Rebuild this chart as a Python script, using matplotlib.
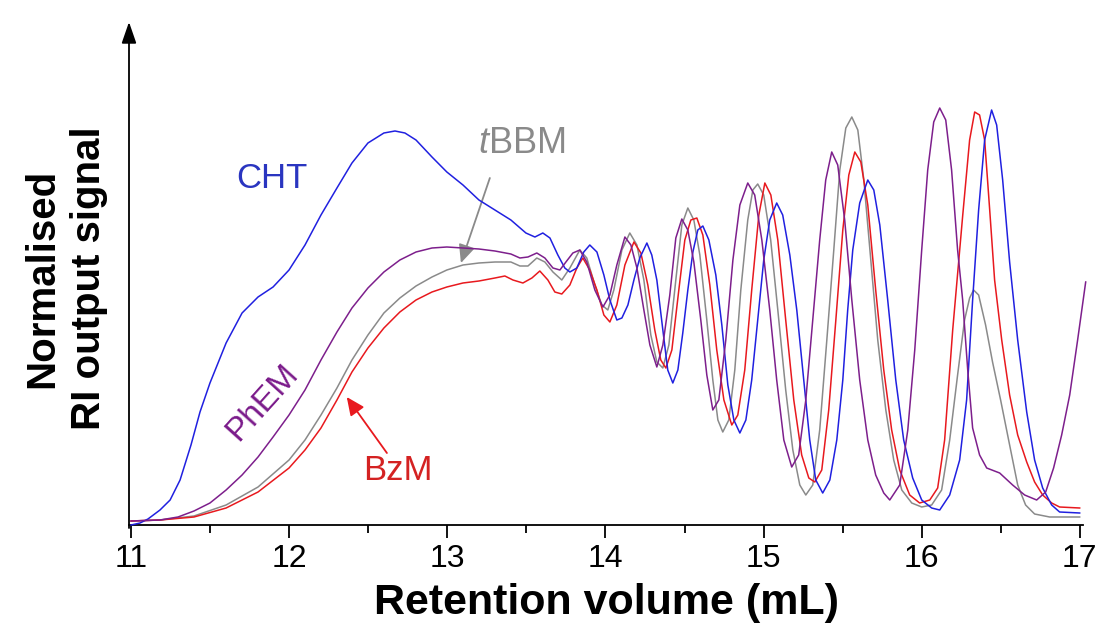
import matplotlib
matplotlib.use("Agg")
import matplotlib.pyplot as plt
from matplotlib.ticker import MultipleLocator

plt.rcParams['font.family'] = ['Liberation Sans', 'DejaVu Sans']
plt.rcParams['mathtext.fontset'] = 'custom'
plt.rcParams['mathtext.rm'] = 'Liberation Sans'
plt.rcParams['mathtext.it'] = 'Liberation Sans:italic'

# ---------------- data (retention volume in mL, normalised RI signal, a.u.) ----------------
cht_x = [11.000, 11.057, 11.107, 11.183, 11.247, 11.310, 11.379, 11.436, 11.499, 11.601,
         11.702, 11.803, 11.898, 11.999, 12.100, 12.201, 12.302, 12.397, 12.498, 12.599,
         12.669, 12.732, 12.802, 12.903, 12.997, 13.099, 13.200, 13.301, 13.402, 13.497,
         13.554, 13.604, 13.649, 13.699, 13.743, 13.775, 13.819, 13.863, 13.901, 13.946,
         13.990, 14.028, 14.072, 14.104, 14.142, 14.180, 14.217, 14.262, 14.293, 14.325,
         14.363, 14.394, 14.426, 14.458, 14.489, 14.521, 14.553, 14.584, 14.616, 14.654,
         14.698, 14.736, 14.774, 14.812, 14.850, 14.888, 14.925, 14.963, 15.001, 15.039,
         15.083, 15.121, 15.166, 15.210, 15.254, 15.292, 15.330, 15.374, 15.419, 15.463,
         15.501, 15.532, 15.564, 15.608, 15.659, 15.697, 15.735, 15.785, 15.836, 15.886,
         15.943, 16.000, 16.063, 16.114, 16.177, 16.240, 16.284, 16.322, 16.360, 16.398,
         16.442, 16.474, 16.512, 16.556, 16.607, 16.664, 16.714, 16.765, 16.822, 16.872,
         16.999]
cht_y = [-3, -1, 3, 12, 22, 42, 77, 110, 139, 179,
         209, 225, 235, 252, 277, 307, 334, 359, 379, 389,
         391, 389, 382, 365, 350, 337, 322, 312, 302, 289,
         285, 289, 284, 267, 254, 250, 254, 270, 277, 270,
         247, 222, 202, 204, 217, 242, 264, 279, 267, 242,
         192, 152, 139, 152, 189, 232, 270, 292, 296, 282,
         247, 197, 137, 102, 89, 102, 142, 202, 262, 302,
         319, 307, 267, 212, 142, 82, 42, 29, 42, 82,
         142, 212, 272, 319, 342, 332, 297, 222, 142, 82,
         44, 22, 14, 12, 27, 62, 122, 222, 312, 382,
         412, 397, 342, 260, 182, 110, 62, 34, 17, 10,
         9]

phem_x = [11.000, 11.183, 11.297, 11.398, 11.499, 11.601, 11.702, 11.803, 11.898, 11.999,
          12.100, 12.201, 12.302, 12.397, 12.498, 12.599, 12.700, 12.802, 12.903, 12.997,
          13.099, 13.200, 13.301, 13.402, 13.459, 13.510, 13.566, 13.617, 13.668, 13.712,
          13.750, 13.794, 13.838, 13.882, 13.933, 13.984, 14.028, 14.072, 14.123, 14.161,
          14.199, 14.243, 14.281, 14.325, 14.363, 14.407, 14.445, 14.483, 14.521, 14.559,
          14.603, 14.641, 14.679, 14.717, 14.761, 14.806, 14.850, 14.900, 14.944, 14.989,
          15.039, 15.083, 15.128, 15.178, 15.222, 15.267, 15.311, 15.355, 15.393, 15.431,
          15.469, 15.513, 15.558, 15.608, 15.659, 15.709, 15.760, 15.798, 15.861, 15.912,
          15.956, 16.000, 16.038, 16.076, 16.114, 16.152, 16.189, 16.227, 16.259, 16.291,
          16.322, 16.366, 16.411, 16.493, 16.575, 16.651, 16.727, 16.784, 16.834, 16.885,
          16.936, 16.986, 17.037]
phem_y = [1, 2, 5, 11, 19, 32, 47, 65, 85, 107,
          132, 162, 190, 214, 234, 250, 262, 270, 274, 275,
          274, 273, 271, 268, 264, 265, 269, 264, 254, 252,
          260, 269, 272, 260, 232, 215, 227, 257, 285, 277,
          254, 212, 177, 155, 177, 227, 284, 303, 292, 260,
          202, 147, 112, 122, 182, 262, 317, 339, 327, 282,
          212, 142, 82, 55, 67, 122, 202, 282, 342, 370,
          357, 302, 222, 142, 82, 47, 29, 22, 37, 92,
          172, 272, 352, 400, 414, 402, 352, 272, 222, 152,
          94, 67, 54, 49, 37, 27, 22, 30, 54, 87,
          127, 182, 240]

tbbm_x = [11.000, 11.183, 11.398, 11.601, 11.803, 11.999, 12.100, 12.201, 12.302, 12.397,
          12.498, 12.599, 12.700, 12.802, 12.903, 12.997, 13.099, 13.200, 13.301, 13.402,
          13.459, 13.510, 13.566, 13.617, 13.668, 13.724, 13.775, 13.838, 13.882, 13.933,
          13.977, 14.015, 14.053, 14.104, 14.154, 14.199, 14.243, 14.287, 14.325, 14.363,
          14.401, 14.445, 14.483, 14.521, 14.559, 14.597, 14.641, 14.679, 14.711, 14.742,
          14.780, 14.818, 14.856, 14.900, 14.932, 14.963, 15.001, 15.045, 15.090, 15.140,
          15.185, 15.229, 15.267, 15.311, 15.355, 15.400, 15.444, 15.482, 15.520, 15.558,
          15.596, 15.634, 15.678, 15.722, 15.773, 15.823, 15.874, 15.937, 16.000, 16.063,
          16.126, 16.177, 16.227, 16.271, 16.303, 16.328, 16.360, 16.404, 16.448, 16.499,
          16.556, 16.607, 16.657, 16.714, 16.809, 16.999]
tbbm_y = [1, 2, 6, 17, 35, 62, 82, 107, 134, 162,
          187, 209, 224, 236, 245, 252, 257, 259, 260, 260,
          256, 256, 264, 260, 250, 242, 254, 272, 264, 237,
          217, 212, 232, 272, 289, 277, 242, 187, 160, 154,
          177, 242, 297, 314, 302, 267, 202, 142, 102, 90,
          102, 152, 232, 302, 332, 338, 327, 282, 212, 132,
          72, 37, 27, 37, 92, 182, 272, 352, 394, 405,
          392, 342, 262, 182, 112, 62, 32, 19, 15, 17,
          32, 82, 147, 202, 224, 232, 227, 197, 160, 122,
          77, 37, 17, 8, 5, 5]

bzm_x = [11.000, 11.183, 11.398, 11.601, 11.803, 11.999, 12.100, 12.201, 12.302, 12.397,
         12.498, 12.599, 12.700, 12.802, 12.903, 12.997, 13.099, 13.200, 13.301, 13.364,
         13.415, 13.478, 13.535, 13.585, 13.636, 13.680, 13.724, 13.775, 13.819, 13.857,
         13.901, 13.946, 13.990, 14.028, 14.072, 14.123, 14.180, 14.224, 14.268, 14.312,
         14.350, 14.382, 14.420, 14.464, 14.502, 14.540, 14.578, 14.616, 14.660, 14.704,
         14.749, 14.799, 14.837, 14.881, 14.925, 14.970, 15.008, 15.046, 15.090, 15.140,
         15.191, 15.241, 15.286, 15.324, 15.368, 15.412, 15.457, 15.501, 15.539, 15.577,
         15.615, 15.659, 15.709, 15.760, 15.810, 15.861, 15.924, 15.987, 16.051, 16.101,
         16.145, 16.196, 16.259, 16.303, 16.335, 16.366, 16.398, 16.430, 16.461, 16.506,
         16.556, 16.607, 16.664, 16.714, 16.765, 16.822, 16.872, 16.999]
bzm_y = [1, 2, 5, 14, 30, 54, 72, 94, 122, 150,
         174, 194, 210, 222, 230, 235, 239, 241, 244, 246,
         242, 239, 244, 251, 242, 230, 228, 237, 254, 264,
         252, 232, 207, 200, 217, 257, 280, 269, 237, 192,
         162, 154, 172, 232, 282, 302, 304, 287, 237, 172,
         122, 97, 107, 152, 232, 307, 339, 327, 282, 202,
         122, 67, 44, 40, 52, 112, 202, 292, 347, 370,
         360, 317, 232, 152, 92, 52, 27, 19, 22, 34,
         82, 192, 306, 382, 410, 407, 382, 312, 242, 182,
         127, 87, 60, 40, 27, 19, 15, 14]

x_ticks = [11, 12, 13, 14, 15, 16, 17]
x_tick_labels = ["11", "12", "13", "14", "15", "16", "17"]

# ---------------- figure ----------------
W, H = 1102, 643
fig = plt.figure(figsize=(W / 100, H / 100), dpi=100)
ax = fig.add_axes([129 / W, (H - 525) / H, (1083 - 129) / W, (525 - 22) / H])

col_cht = '#2020e0'
col_phem = '#7d1f8c'
col_tbbm = '#8a8a8a'
col_bzm = '#e8191e'

lw = 1.1
ax.plot(tbbm_x, tbbm_y, color=col_tbbm, lw=lw, clip_on=False, zorder=2)
ax.plot(bzm_x, bzm_y, color=col_bzm, lw=lw, clip_on=False, zorder=3)
ax.plot(cht_x, cht_y, color=col_cht, lw=lw, clip_on=False, zorder=4)
ax.plot(phem_x, phem_y, color=col_phem, lw=lw, clip_on=False, zorder=5)

ax.set_xlim(10.987, 17.02)
ax.set_ylim(-3, 500)

# axes styling
for s in ['top', 'right', 'left']:
    ax.spines[s].set_visible(False)
ax.spines['bottom'].set_linewidth(1.3)
ax.set_yticks([])
ax.set_xticks(x_ticks)
ax.set_xticklabels(x_tick_labels, fontsize=23)
ax.xaxis.set_minor_locator(MultipleLocator(0.5))
ax.tick_params(axis='x', which='major', direction='out', length=9, width=1.3, pad=5)
ax.tick_params(axis='x', which='minor', direction='out', length=6, width=1.3)

# y arrow axis
ax.annotate('', xy=(0, 1), xycoords='axes fraction', xytext=(0, -0.006),
            textcoords='axes fraction',
            arrowprops=dict(arrowstyle='-|>,head_length=1.3,head_width=0.45',
                            lw=1.3, color='black', shrinkA=0, shrinkB=0),
            annotation_clip=False)

ax.set_xlabel('Retention volume (mL)', fontsize=31, fontweight='bold', labelpad=6)
ax.set_ylabel('Normalised\nRI output signal', fontsize=29, fontweight='bold',
              linespacing=1.3)
ax.yaxis.set_label_coords(-0.022, 0.49)

# annotations
ax.text(11.891, 344, 'CHT', color='#2a35c0', fontsize=25, ha='center', va='center')
ax.text(11.828, 120, 'PhEM', color='#7a1a8a', fontsize=24, ha='center', va='center',
        rotation=48)
ax.text(12.688, 52, 'BzM', color='#d42222', fontsize=25, ha='center', va='center')
ax.text(13.472, 379, r'$\mathit{t}$BBM', color=col_tbbm, fontsize=26, ha='center',
        va='center')

ax.annotate('', xy=(13.086, 259), xytext=(13.269, 344),
            arrowprops=dict(arrowstyle='-|>,head_length=1.1,head_width=0.5',
                            lw=1.3, color=col_tbbm, shrinkA=0, shrinkB=0))
ax.annotate('', xy=(12.364, 125), xytext=(12.618, 69),
            arrowprops=dict(arrowstyle='-|>,head_length=1.1,head_width=0.5',
                            lw=1.3, color=col_bzm, shrinkA=0, shrinkB=0))

fig.savefig('out.png', dpi=100)
